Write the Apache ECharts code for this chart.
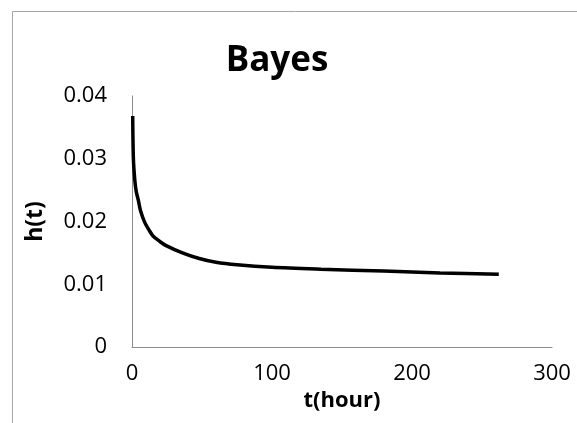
<!DOCTYPE html>
<html><head><meta charset="utf-8">
<script src="https://cdn.jsdelivr.net/npm/echarts@6/dist/echarts.min.js"></script>
<style>html,body{margin:0;padding:0;background:#fff}#c{width:577px;height:423px}</style>
</head><body><div id="c"></div>
<script>
const titleText = "Bayes";
const xName = "t(hour)";
const yName = "h(t)";
const tHours = [0.5, 1, 2, 3, 4.5, 6, 9, 12, 15, 20, 24, 36, 48, 60, 75, 100, 135, 180, 220, 262];
const hValues = [0.0368, 0.0300, 0.0266, 0.0248, 0.0234, 0.0218, 0.0199, 0.0187, 0.0177, 0.0168, 0.0162, 0.0150, 0.0141, 0.0135, 0.0131, 0.0127, 0.0124, 0.0121, 0.0118, 0.0116];
const font = "'Open Sans', 'Liberation Sans', sans-serif";

const chart = echarts.init(document.getElementById('c'), null, {renderer: 'canvas'});
chart.setOption({
  animation: false,
  backgroundColor: '#fff',
  graphic: [{
    type: 'rect', shape: {x: 12.5, y: 11.5, width: 700, height: 600},
    style: {fill: 'none', stroke: '#a6a6a6', lineWidth: 1}, silent: true
  }],
  title: {
    text: titleText, left: 272, top: 39, textAlign: 'center',
    textStyle: {fontFamily: font, fontWeight: 'bold', fontSize: 35, color: '#000'}
  },
  grid: {left: 132, right: 25, top: 96, bottom: 76, containLabel: false},
  xAxis: {
    type: 'value', min: 0, max: 300, interval: 100,
    name: xName, nameLocation: 'middle', nameGap: 39,
    nameTextStyle: {fontFamily: font, fontWeight: 'bold', fontSize: 22, color: '#000'},
    axisLine: {show: true, lineStyle: {color: '#8c8c8c', width: 1}},
    axisTick: {show: false},
    splitLine: {show: false},
    axisLabel: {fontFamily: font, fontSize: 22, color: '#000', margin: 16}
  },
  yAxis: {
    type: 'value', min: 0, max: 0.04, interval: 0.01,
    name: yName, nameLocation: 'middle', nameGap: 85, nameRotate: 90,
    nameTextStyle: {fontFamily: font, fontWeight: 'bold', fontSize: 23, color: '#000'},
    axisLine: {show: true, lineStyle: {color: '#8c8c8c', width: 1}},
    axisTick: {show: false},
    splitLine: {show: false},
    axisLabel: {fontFamily: font, fontSize: 22, color: '#000', margin: 25,
      formatter: v => v === 0 ? '0' : v.toFixed(2)}
  },
  series: [{
    type: 'line', data: tHours.map((t, i) => [t, hValues[i]]),
    showSymbol: false, smooth: 0.3,
    lineStyle: {color: '#000', width: 3.5}
  }]
});
</script></body></html>
